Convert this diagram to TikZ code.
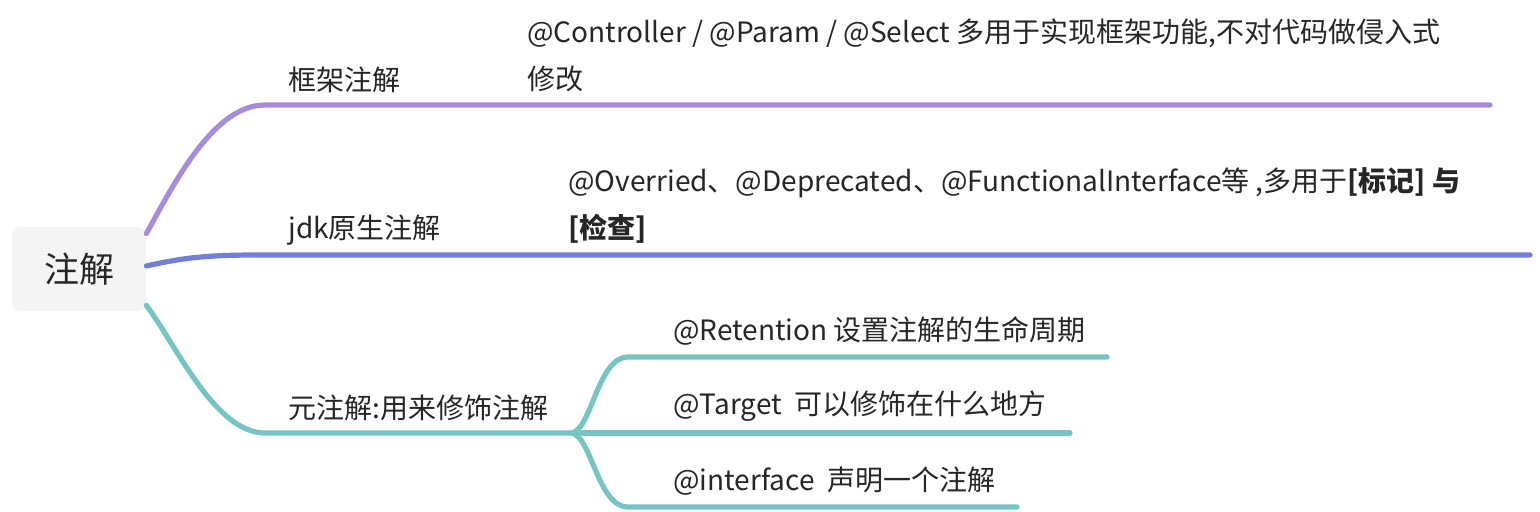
\documentclass[tikz,border=0pt]{standalone}
\usepackage{fontspec}
\setmainfont{Noto Sans CJK SC}
\usetikzlibrary{positioning}
\definecolor{kuangjia}{HTML}{A78BDF}
\definecolor{jdkse}{HTML}{7080D8}
\definecolor{yuanse}{HTML}{74C5C3}
\definecolor{wenzi}{HTML}{262626}
\definecolor{genbg}{HTML}{F4F4F4}

\begin{document}
\begin{tikzpicture}[x=0.5pt,y=-0.5pt,
    zhixian/.style={line width=2.6pt,line cap=round},
    biaoqian/.style={anchor=west,inner sep=0pt,text=wenzi,font=\fontsize{14}{16}\selectfont},
    shuoming/.style={biaoqian,align=left,font=\fontsize{14}{23.5}\selectfont}]
    \useasboundingbox (0,0) rectangle (1540,512);

    % 根节点
    \node[fill=genbg,rounded corners=4pt,minimum width=67pt,minimum height=42pt,
          text=wenzi,font=\fontsize{17.5}{20}\selectfont] (gen) at (79,269) {注解};

    % 一级分支
    \node[biaoqian] (kj) at (288,80) {框架注解};
    \node[biaoqian] (jdk) at (288,230) {jdk原生注解};
    \node[biaoqian] (yz) at (288,408) {元注解:用来修饰注解};

    % 说明文字
    \node[shuoming] (kjsm) at (527,55)
        {@Controller / @Param / @Select 多用于实现框架功能,不对代码做侵入式\\修改};
    \node[shuoming] (jdksm) at (568,205)
        {@Overried、@Deprecated、@FunctionalInterface等 ,多用于\textbf{[标记] 与}\\\textbf{[检查]}};

    % 元注解的子节点
    \node[biaoqian] (ret) at (673,331) {@Retention 设置注解的生命周期};
    \node[biaoqian] (tar) at (673,406) {@Target\ \ 可以修饰在什么地方};
    \node[biaoqian] (itf) at (673,481) {@interface\ \ 声明一个注解};

    % 线的拐点和端点
    \coordinate (kjzhe) at (265,105);
    \coordinate (kjend) at (1490,105);
    \coordinate (jdkzhe) at (260,255);
    \coordinate (jdkend) at (1530,255);
    \coordinate (yzzhe) at (265,433);
    \coordinate (fencha) at (572,433);
    \coordinate (retzhe) at (628,357);
    \coordinate (retend) at (1107,357);
    \coordinate (tarend) at (1070,433);
    \coordinate (itfzhe) at (628,507);
    \coordinate (itfend) at (1017,507);

    % 连线
    \draw[zhixian,kuangjia] ([shift={(0,7)}]gen.north east)
        .. controls +(30,-55) and +(-50,0) .. (kjzhe) -- (kjend);
    \draw[zhixian,jdkse] ([shift={(0,-3)}]gen.east)
        .. controls +(40,-9) and +(-50,0) .. (jdkzhe) -- (jdkend);
    \draw[zhixian,yuanse] ([shift={(0,-6)}]gen.south east)
        .. controls +(30,40) and +(-50,0) .. (yzzhe) -- (fencha);

    % 元注解分叉
    \draw[zhixian,yuanse] (fencha) .. controls +(20,-5) and +(-30,0) .. (retzhe) -- (retend);
    \draw[zhixian,yuanse] (fencha) -- (tarend);
    \draw[zhixian,yuanse] (fencha) .. controls +(20,5) and +(-30,0) .. (itfzhe) -- (itfend);
\end{tikzpicture}
\end{document}
